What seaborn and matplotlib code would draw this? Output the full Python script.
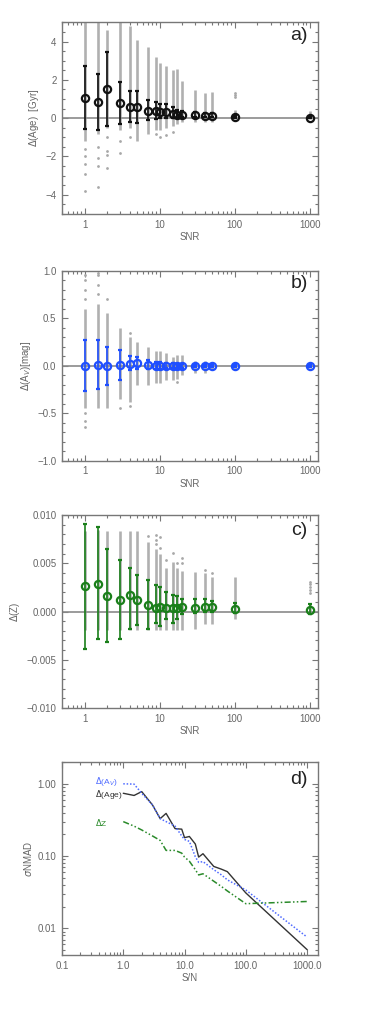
import numpy as np
import pandas as pd
import matplotlib
matplotlib.use("Agg")
import matplotlib.pyplot as plt
import seaborn as sns
from matplotlib.ticker import MultipleLocator, LogLocator, FuncFormatter, NullFormatter

# SNR grid of the simulations
snr = [1, 1.5, 2, 3, 4, 5, 7, 9, 10, 12, 15, 17, 20, 30, 40, 50, 100, 1000]

# panel a: Delta(Age) [Gyr]
age_mean = [1.05, 0.85, 1.5, 0.8, 0.6, 0.6, 0.4, 0.38, 0.33, 0.33, 0.22, 0.18, 0.18, 0.15, 0.12, 0.12, 0.05, 0.02]
age_err_lo = [-0.55, -0.6, -0.4, -0.3, -0.2, -0.25, -0.1, -0.05, 0.0, 0.0, 0.0, 0.0, 0.05, 0.05, 0.05, 0.05, 0.0, 0.0]
age_err_hi = [2.7, 2.3, 3.45, 1.9, 1.4, 1.4, 0.95, 0.85, 0.75, 0.75, 0.6, 0.45, 0.4, 0.3, 0.25, 0.25, 0.12, 0.06]
age_col_lo = [-1.2, -0.8, -0.5, -0.6, -0.5, -1.2, -0.8, -0.6, -0.6, -0.5, -0.4, -0.3, -0.2, -0.2, -0.2, -0.2, -0.05, -0.05]
age_col_hi = [5.0, 5.0, 4.6, 5.0, 4.8, 4.1, 3.7, 3.2, 2.9, 2.7, 2.5, 2.55, 1.95, 1.45, 1.3, 1.35, 0.45, 0.35]
age_out_x = [1, 1, 1, 1, 1, 1.5, 1.5, 1.5, 1.5, 2, 2, 2, 2, 3, 3, 4, 9, 10, 12, 15, 100, 100, 100]
age_out_y = [-1.6, -2.0, -2.4, -2.9, -3.8, -1.5, -2.1, -2.5, -3.6, -1.0, -1.7, -1.9, -2.6, -1.2, -1.8, -1.0,
             -0.8, -1.0, -0.9, -0.7, 1.1, 1.2, 1.3]

# panel b: Delta(A_V) [mag]
av_mean = [0.0, 0.01, 0.0, 0.01, 0.02, 0.025, 0.01, 0.0, 0.0, 0.0, 0.0, 0.0, 0.0, 0.0, 0.0, 0.0, 0.0, 0.0]
av_err_lo = [-0.27, -0.25, -0.2, -0.15, -0.05, -0.03, -0.03, -0.03, -0.03, -0.02, -0.02, -0.02, -0.02, -0.01, -0.01, -0.01, -0.01, -0.01]
av_err_hi = [0.27, 0.27, 0.2, 0.17, 0.1, 0.09, 0.06, 0.04, 0.04, 0.03, 0.03, 0.02, 0.02, 0.01, 0.01, 0.01, 0.01, 0.01]
av_col_lo = [-0.45, -0.44, -0.44, -0.35, -0.38, -0.2, -0.2, -0.18, -0.18, -0.15, -0.15, -0.14, -0.1, -0.08, -0.08, -0.05, -0.04, -0.02]
av_col_hi = [0.6, 0.65, 0.55, 0.4, 0.3, 0.25, 0.2, 0.15, 0.16, 0.13, 0.09, 0.11, 0.11, 0.05, 0.05, 0.03, 0.04, 0.02]
av_out_x = [1, 1, 1, 1, 1, 1, 1, 1.5, 1.5, 1.5, 1.5, 2, 3, 4, 4, 17]
av_out_y = [0.7, 0.8, 0.9, 0.95, -0.5, -0.58, -0.65, 0.75, 0.85, 0.95, 0.98, 0.7, -0.45, 0.34, -0.42, -0.17]

# panel c: Delta(Z)
z_mean = [0.0026, 0.0029, 0.0016, 0.0012, 0.0017, 0.0012, 0.0007, 0.0004, 0.0005, 0.0004, 0.0004, 0.0004,
          0.0005, 0.0004, 0.0005, 0.0005, 0.0003, 0.0002]
z_err_lo = [-0.0039, -0.0028, -0.0032, -0.0028, -0.0018, -0.0014, -0.0018, -0.0012, -0.0015, -0.0008, -0.0012,
            -0.0008, -0.0003, -0.0002, 0.0, 0.0, -0.0002, -0.0003]
z_err_hi = [0.0091, 0.0088, 0.0065, 0.0053, 0.0045, 0.0038, 0.0033, 0.0027, 0.0025, 0.002, 0.0017, 0.0016,
            0.0013, 0.0013, 0.0013, 0.0011, 0.0009, 0.0008]
z_col_lo = [-0.0019, -0.0019, -0.0019, -0.0019, -0.0019, -0.0019, -0.0019, -0.0019, -0.0019, -0.0019, -0.0019,
            -0.0019, -0.0019, -0.0018, -0.0013, -0.0013, -0.0008, -0.0001]
z_col_hi = [0.0083, 0.0084, 0.0083, 0.0083, 0.0083, 0.0083, 0.0072, 0.0065, 0.006, 0.0045, 0.0051, 0.0045,
            0.0042, 0.0041, 0.004, 0.0036, 0.0036, 0.0008]
z_out_x = [7, 9, 9, 9, 10, 10, 12, 15, 17, 20, 20, 40, 50, 1000, 1000, 1000, 1000, 1000]
z_out_y = [0.0078, 0.0079, 0.0074, 0.007, 0.0077, 0.0066, 0.0053, 0.0061, 0.005, 0.0055, 0.005, 0.0043, 0.004,
           0.0019, 0.0022, 0.0025, 0.0028, 0.0031]

# panel d: sigma NMAD vs S/N
nmad_age = [0.74, 0.69, 0.78, 0.51, 0.33, 0.39, 0.24, 0.236, 0.18, 0.187, 0.147, 0.097, 0.108, 0.072, 0.066,
            0.061, 0.031, 0.0051]
nmad_av = [1.0, 0.99, 0.74, 0.51, 0.33, 0.30, 0.26, 0.19, 0.17, 0.16, 0.098, 0.082, 0.084, 0.065, 0.055, 0.047,
           0.034, 0.0076]
nmad_z = [0.30, 0.26, 0.23, 0.19, 0.165, 0.12, 0.12, 0.11, 0.097, 0.085, 0.065, 0.055, 0.057, 0.045, 0.038,
          0.033, 0.022, 0.0236]

sns.set_theme(style="ticks")
plt.rcParams['font.family'] = ['Liberation Sans', 'DejaVu Sans']
plt.rcParams['mathtext.fontset'] = 'dejavusans'

GREY = '#b0b0b0'
TXT = '#666666'


def style_axes(ax):
    for s in ax.spines.values():
        s.set_color('#777777')
        s.set_linewidth(1.0)
    ax.tick_params(which='both', direction='in', top=True, right=True,
                   colors='#777777', labelcolor=TXT, labelsize=7, width=0.8)
    ax.tick_params(which='major', length=4.5, pad=4)
    ax.tick_params(which='minor', length=2.2)


def snr_panel(ax, mean, elo, ehi, clo, chi, ox, oy, color, ylim, major, minor, ylabel, letter, fmt, let_y):
    ax.set_xscale('log')
    ax.vlines(snr, clo, chi, color=GREY, lw=1.9, zorder=1)
    sns.scatterplot(x=ox, y=oy, color='#a8a8a8', s=4, linewidth=0, ax=ax, zorder=1)
    ax.axhline(0, color='#8a8a8a', lw=1.2, zorder=2)
    mean = np.array(mean)
    yerr = [mean - np.array(elo), np.array(ehi) - mean]
    ax.errorbar(snr, mean, yerr=yerr, fmt='o', ms=5.2, mfc='none', mec=color, mew=1.6,
                ecolor=color, elinewidth=1.2, capsize=1.5, capthick=1.0, zorder=3)
    ax.set_xlim(0.5, 1280)
    ax.set_ylim(*ylim)
    ax.yaxis.set_major_locator(MultipleLocator(major))
    ax.yaxis.set_minor_locator(MultipleLocator(minor))
    ax.yaxis.set_major_formatter(FuncFormatter(fmt))
    ax.xaxis.set_major_locator(LogLocator(base=10, numticks=10))
    ax.xaxis.set_minor_locator(LogLocator(base=10, subs=np.arange(2, 10), numticks=20))
    ax.xaxis.set_minor_formatter(NullFormatter())
    ax.xaxis.set_major_formatter(FuncFormatter(lambda v, p: '%d' % v))
    ax.set_xlabel('SNR', color=TXT, fontsize=7, labelpad=2)
    ax.set_ylabel(ylabel, color=TXT, fontsize=7, labelpad=3)
    ax.text(0.96, let_y, letter, transform=ax.transAxes, ha='right', va='center',
            fontsize=14, color='#222222')
    style_axes(ax)


fig = plt.figure(figsize=(3.9, 10.17), dpi=100)
ax_a = fig.add_axes([0.159, 0.7896, 0.656, 0.1884])
ax_b = fig.add_axes([0.159, 0.5470, 0.656, 0.1868])
ax_c = fig.add_axes([0.159, 0.3038, 0.656, 0.1898])
ax_d = fig.add_axes([0.159, 0.0610, 0.656, 0.1897])

snr_panel(ax_a, age_mean, age_err_lo, age_err_hi, age_col_lo, age_col_hi, age_out_x, age_out_y,
          '#111111', (-5, 5), 2, 0.5, r'$\Delta$(Age)  [Gyr]', 'a)',
          lambda v, p: ('%d' % round(v)).replace('-', '\u2212'), 0.93)
snr_panel(ax_b, av_mean, av_err_lo, av_err_hi, av_col_lo, av_col_hi, av_out_x, av_out_y,
          '#1f4fff', (-1, 1), 0.5, 0.1, r'$\Delta$(A$_V$)[mag]', 'b)',
          lambda v, p: ('%.1f' % v).replace('-', '\u2212'), 0.935)
snr_panel(ax_c, z_mean, z_err_lo, z_err_hi, z_col_lo, z_col_hi, z_out_x, z_out_y,
          '#1a7f1a', (-0.01, 0.01), 0.005, 0.001, r'$\Delta$(Z)', 'c)',
          lambda v, p: ('%.3f' % v).replace('-', '\u2212'), 0.922)

# panel d
df = pd.DataFrame({'snr': snr, 'age': nmad_age, 'av': nmad_av, 'z': nmad_z})
sns.lineplot(data=df, x='snr', y='age', color='#333333', lw=1.0, ax=ax_d)
sns.lineplot(data=df, x='snr', y='av', color='#4f6bff', lw=1.1, linestyle=(0, (1, 1.2)), ax=ax_d)
sns.lineplot(data=df, x='snr', y='z', color='#2a8a2a', lw=1.1,
             linestyle=(0, (4, 1.5, 1, 1.5, 1, 1.5)), ax=ax_d)
ax_d.set_xscale('log')
ax_d.set_yscale('log')
ax_d.set_xlim(0.1, 1500)
ax_d.set_ylim(0.0043, 2.0)
ax_d.xaxis.set_major_locator(LogLocator(base=10, numticks=10))
ax_d.xaxis.set_minor_locator(LogLocator(base=10, subs=np.arange(2, 10), numticks=20))
ax_d.xaxis.set_major_formatter(FuncFormatter(lambda v, p: '%.1f' % v))
ax_d.xaxis.set_minor_formatter(NullFormatter())
ax_d.yaxis.set_major_locator(LogLocator(base=10, numticks=10))
ax_d.yaxis.set_minor_locator(LogLocator(base=10, subs=np.arange(2, 10), numticks=20))
ax_d.yaxis.set_major_formatter(FuncFormatter(lambda v, p: '%.2f' % v))
ax_d.yaxis.set_minor_formatter(NullFormatter())
ax_d.set_xlabel('S/N', color=TXT, fontsize=7, labelpad=2)
ax_d.set_ylabel(r'$\sigma$NMAD', color=TXT, fontsize=7, labelpad=3)
ax_d.text(0.35, 1.07, r'$\Delta$(A$_V$)', color='#4f6bff', fontsize=6, ha='left', va='center')
ax_d.text(0.35, 0.71, r'$\Delta$(Age)', color='#333333', fontsize=6, ha='left', va='center')
ax_d.text(0.35, 0.29, r'$\Delta$Z', color='#2a8a2a', fontsize=6, ha='left', va='center')
ax_d.text(0.96, 0.907, 'd)', transform=ax_d.transAxes, ha='right', va='center',
          fontsize=14, color='#222222')
style_axes(ax_d)

fig.savefig('out.png', dpi=100)
